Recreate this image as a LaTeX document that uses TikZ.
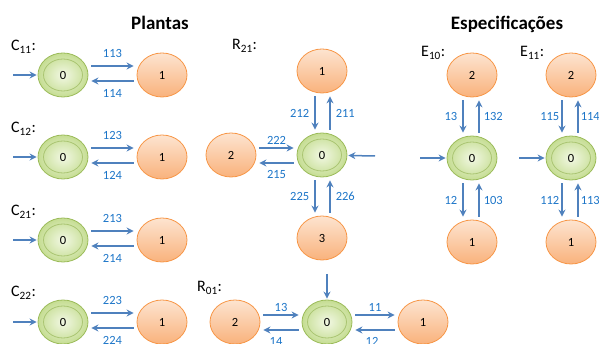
\documentclass[tikz,border=0pt]{standalone}
\usepackage{fontspec}
\setmainfont{Carlito}
\usepackage{xcolor}
\usetikzlibrary{arrows.meta}
\usetikzlibrary{shapes.geometric}

\definecolor{arrowblue}{HTML}{4F81BD}
\definecolor{labelblue}{HTML}{1C75C8}
\definecolor{greenline}{HTML}{9BBB59}
\definecolor{greentop}{HTML}{F2F8E4}
\definecolor{greenbot}{HTML}{C5DD92}
\definecolor{orangeline}{HTML}{F79646}
\definecolor{orangetop}{HTML}{FDE4D0}
\definecolor{orangebot}{HTML}{F9B27C}

\begin{document}
\begin{tikzpicture}[x=1pt,y=-1pt]
			\useasboundingbox (0,0) rectangle (599,344);
			\tikzstyle{state}=[ellipse, draw=orangeline, line width=0.8pt, top color=orangetop, bottom color=orangebot, minimum width=50pt, minimum height=44pt, inner sep=0pt, font=\fontsize{12.5}{12.5}\selectfont]
			\tikzstyle{start}=[state, draw=greenline, shading=radial, inner color=greentop, outer color=greenbot,
				path picture={\draw[greenline!85, line width=0.8pt] (path picture bounding box.center) ellipse (19.5pt and 16pt);}]
			\tikzstyle{move}=[arrowblue, line width=1.5pt, -{Stealth[length=7pt,width=7pt]}, shorten <=3pt, shorten >=3pt]
			\tikzstyle{init}=[move, shorten <=0pt, shorten >=1pt]
			\tikzstyle{lbl}=[labelblue, inner sep=0pt, font=\fontsize{12.5}{12.5}\selectfont]
			\tikzstyle{heading}=[font=\fontsize{19}{19}\selectfont\bfseries]
			\tikzstyle{autname}=[anchor=base west, inner sep=0pt, font=\fontsize{16}{16}\selectfont]
			
			\node[heading] (plantas) at (160,23) {Plantas};
			\node[heading] (espec) at (507,24) {Especificações};
			
			% C11
			\begin{scope}[shift={(0,75)}]
				\node[autname] (cname) at (11,-24) {C\textsubscript{11}:};
				\node[start] (c0) at (63,0) {0};
				\node[state] (c1) at (162,0) {1};
				\coordinate (cin) at (13,0);
				\draw[init] (cin) to (c0);
				\draw[move] ([yshift=9pt]c0.east) to node[lbl, above=8pt] {113} ([yshift=9pt]c1.west);
				\draw[move] ([yshift=-6pt]c1.west) to node[lbl, below=8pt] {114} ([yshift=-6pt]c0.east);
			\end{scope}
			
			% C12
			\begin{scope}[shift={(0,157)}]
				\node[autname] (cname) at (11,-24) {C\textsubscript{12}:};
				\node[start] (c0) at (63,0) {0};
				\node[state] (c1) at (162,0) {1};
				\coordinate (cin) at (13,0);
				\draw[init] (cin) to (c0);
				\draw[move] ([yshift=9pt]c0.east) to node[lbl, above=8pt] {123} ([yshift=9pt]c1.west);
				\draw[move] ([yshift=-6pt]c1.west) to node[lbl, below=8pt] {124} ([yshift=-6pt]c0.east);
			\end{scope}
			
			% C21
			\begin{scope}[shift={(0,240)}]
				\node[autname] (cname) at (11,-24) {C\textsubscript{21}:};
				\node[start] (c0) at (63,0) {0};
				\node[state] (c1) at (162,0) {1};
				\coordinate (cin) at (13,0);
				\draw[init] (cin) to (c0);
				\draw[move] ([yshift=9pt]c0.east) to node[lbl, above=8pt] {213} ([yshift=9pt]c1.west);
				\draw[move] ([yshift=-6pt]c1.west) to node[lbl, below=8pt] {214} ([yshift=-6pt]c0.east);
			\end{scope}
			
			% C22
			\begin{scope}[shift={(0,322)}]
				\node[autname] (cname) at (11,-25) {C\textsubscript{22}:};
				\node[start] (c0) at (63,0) {0};
				\node[state] (c1) at (162,0) {1};
				\coordinate (cin) at (13,0);
				\draw[init] (cin) to (c0);
				\draw[move] ([yshift=9pt]c0.east) to node[lbl, above=8pt] {223} ([yshift=9pt]c1.west);
				\draw[move] ([yshift=-6pt]c1.west) to node[lbl, below=8pt] {224} ([yshift=-6pt]c0.east);
			\end{scope}
			
			% R21
			\node[autname] (rname) at (232,50) {R\textsubscript{21}:};
			\node[start] (r0) at (322,155) {0};
			\node[state] (r1) at (322,71) {1};
			\node[state] (r2) at (231,155) {2};
			\node[state] (r3) at (322,238) {3};
			\coordinate (rin) at (375,156);
			\draw[init] (rin) to (r0);
			\draw[move] ([xshift=-7pt]r1.south) to node[lbl, left=5pt] {212} ([xshift=-7pt]r0.north);
			\draw[move] ([xshift=8pt]r0.north) to node[lbl, right=5pt] {211} ([xshift=8pt]r1.south);
			\draw[move] ([yshift=7pt]r2.east) to node[lbl, above=3pt] {222} ([yshift=7pt]r0.west);
			\draw[move] ([yshift=-8pt]r0.west) to node[lbl, below=7pt] {215} ([yshift=-8pt]r2.east);
			\draw[move] ([xshift=-7pt]r0.south) to node[lbl, left=5pt] {225} ([xshift=-7pt]r3.north);
			\draw[move] ([xshift=8pt]r3.north) to node[lbl, right=5pt] {226} ([xshift=8pt]r0.south);
			
			% R01
			\node[autname] (qname) at (197,292) {R\textsubscript{01}:};
			\node[start] (q0) at (327,322) {0};
			\node[state] (q2) at (235,322) {2};
			\node[state] (q1) at (423,322) {1};
			\coordinate (qin) at (327,274);
			\draw[init] (qin) to (q0);
			\draw[move] ([yshift=7pt]q2.east) to node[lbl, above=3pt] {13} ([yshift=7pt]q0.west);
			\draw[move] ([yshift=-8pt]q0.west) to node[lbl, below=7pt, xshift=-5pt] {14} ([yshift=-8pt]q2.east);
			\draw[move] ([yshift=7pt]q0.east) to node[lbl, above=3pt] {11} ([yshift=7pt]q1.west);
			\draw[move] ([yshift=-8pt]q1.west) to node[lbl, below=7pt, xshift=-3pt] {12} ([yshift=-8pt]q0.east);
			
			% E10
			\node[autname] (ename) at (421,57) {E\textsubscript{10}:};
			\node[start] (e0) at (472,158) {0};
			\node[state] (e2) at (472,75) {2};
			\node[state] (e1) at (472,242) {1};
			\coordinate (ein) at (420,158);
			\draw[init] (ein) to (e0);
			\draw[move] ([xshift=-9pt]e2.south) to node[lbl, left=5pt] {13} ([xshift=-9pt]e0.north);
			\draw[move] ([xshift=7pt]e0.north) to node[lbl, right=4pt] {132} ([xshift=7pt]e2.south);
			\draw[move] ([xshift=-9pt]e0.south) to node[lbl, left=5pt] {12} ([xshift=-9pt]e1.north);
			\draw[move] ([xshift=7pt]e1.north) to node[lbl, right=4pt] {103} ([xshift=7pt]e0.south);
			
			% E11
			\begin{scope}[shift={(99,0)}]
				\node[autname] (ename) at (421,57) {E\textsubscript{11}:};
				\node[start] (e0) at (472,158) {0};
				\node[state] (e2) at (472,75) {2};
				\node[state] (e1) at (472,242) {1};
				\coordinate (ein) at (420,158);
				\draw[init] (ein) to (e0);
				\draw[move] ([xshift=-9pt]e2.south) to node[lbl, left=2pt] {115} ([xshift=-9pt]e0.north);
				\draw[move] ([xshift=7pt]e0.north) to node[lbl, right=2pt] {114} ([xshift=7pt]e2.south);
				\draw[move] ([xshift=-9pt]e0.south) to node[lbl, left=2pt] {112} ([xshift=-9pt]e1.north);
				\draw[move] ([xshift=7pt]e1.north) to node[lbl, right=2pt] {113} ([xshift=7pt]e0.south);
			\end{scope}
		\end{tikzpicture}
\end{document}
